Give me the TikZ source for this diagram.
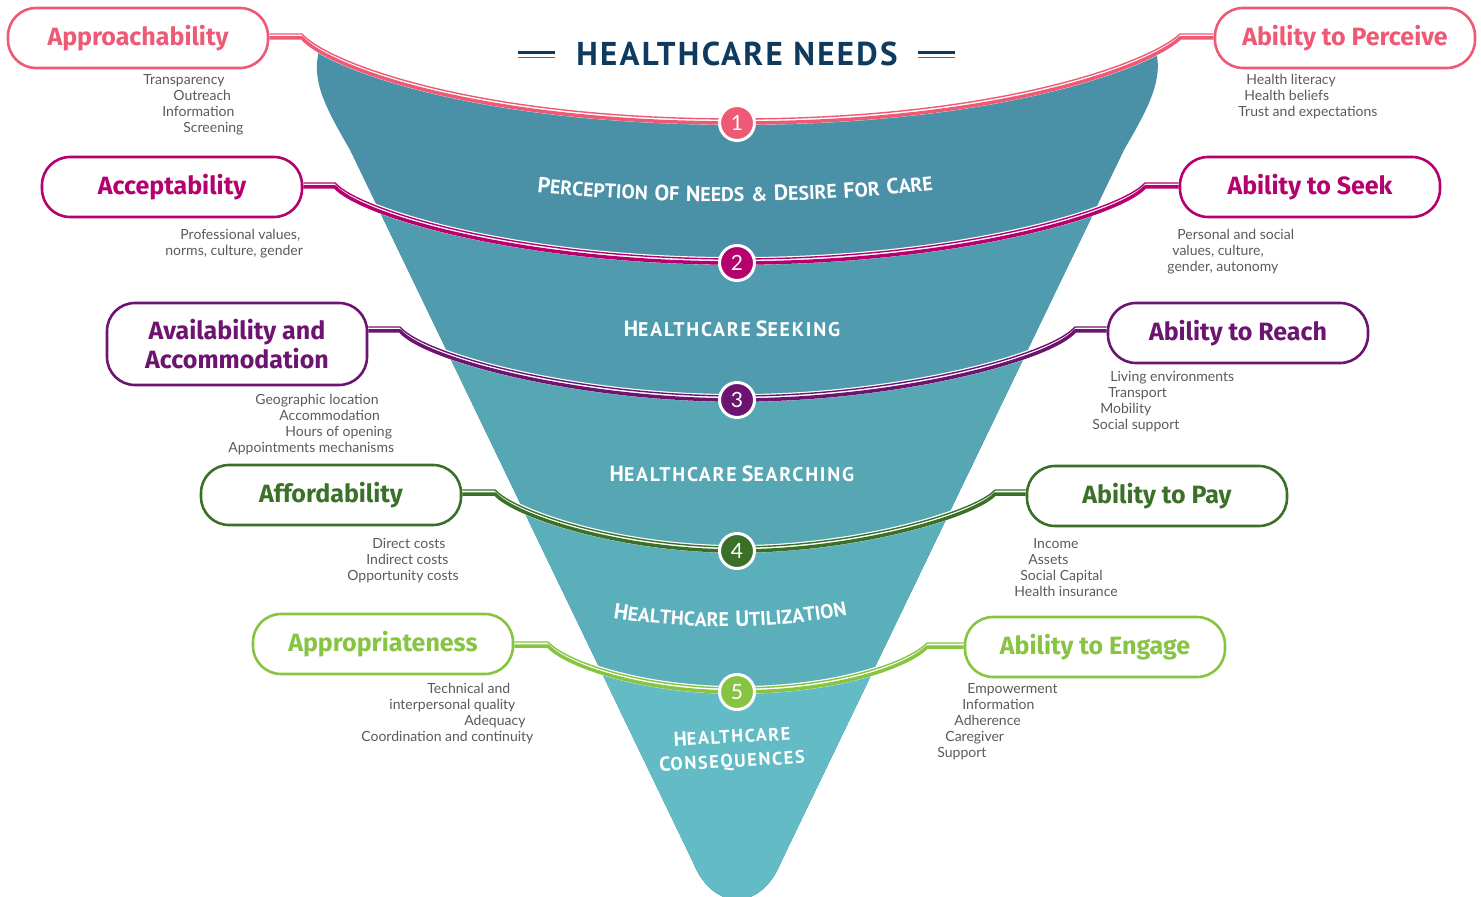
\documentclass[tikz,border=0pt]{standalone}
\usepackage{fontspec}
\setmainfont{Lato}
\newfontfamily\boxfont{Fira Sans}
\newfontfamily\titlefont[LetterSpace=7]{PT Sans}
\newfontfamily\bandfont[LetterSpace=9]{PT Sans}
\usetikzlibrary{decorations.text}

\definecolor{cPink}{HTML}{EE5A75}
\definecolor{cMagenta}{HTML}{B5006E}
\definecolor{cPurple}{HTML}{6C1470}
\definecolor{cGreen}{HTML}{3A7028}
\definecolor{cLime}{HTML}{86C441}
\definecolor{cNavy}{HTML}{0D3A5E}
\definecolor{cGray}{HTML}{5A5A5A}
\definecolor{bandA}{HTML}{4A90A6}
\definecolor{bandB}{HTML}{509BAD}
\definecolor{bandC}{HTML}{56A6B4}
\definecolor{bandD}{HTML}{5BAFBB}
\definecolor{bandE}{HTML}{63BBC5}

\pgfdeclarelayer{funnel}
\pgfdeclarelayer{lines}
\pgfsetlayers{funnel,lines,main}

% small-caps look for the stage labels
\newcommand\stageBig{\bandfont\bfseries\fontsize{11}{12}\selectfont\color{white}}
\newcommand\stageSmall{\bandfont\bfseries\fontsize{9.9}{12}\selectfont\color{white}}
\newcommand\capword[2]{{\stageBig #1}{\stageSmall #2}}

% a connector: white casing, thin upper rule, thick lower rule
\newcommand\linkpath[2]{%
  \draw[white, line width=3.9pt, line join=round, transform canvas={yshift=1pt}] #2;
  \draw[#1, line width=0.7pt, line join=round, transform canvas={yshift=2pt}] #2;
  \draw[#1, line width=1.75pt, line join=round] #2;}

\tikzset{
  box/.style={draw=#1, line width=1.3pt, rounded corners=14pt, minimum width=130pt,
    minimum height=30pt, fill=white, text=#1, align=center,
    font=\boxfont\bfseries\fontsize{12.5}{14.5}\selectfont},
  num/.style={circle, fill=#1, draw=white, line width=1.5pt, minimum size=17.5pt,
    inner sep=0pt, text=white, font=\fontsize{10.5}{11}\selectfont},
  item/.style={anchor=west, inner sep=0pt, text=cGray, text height=5.2pt, text depth=1.5pt,
    font=\fontsize{7}{8}\selectfont},
  stage/.style={inner sep=0pt, text=white}
}

\begin{document}
\begin{tikzpicture}[x=0.5pt, y=-0.5pt]
\useasboundingbox (0,0) rectangle (1481,897);

% ---------- title ----------
\node[text=cNavy, inner sep=0pt] (title) at (737,54)
  {\titlefont\bfseries\fontsize{16.5}{17}\selectfont HEALTHCARE NEEDS};
\draw[cNavy, line width=1.5pt] (518,53) -- (555,53);
\draw[cNavy!75, line width=0.6pt] (518,57.5) -- (555,57.5);
\draw[cNavy, line width=1.5pt] (918,53) -- (955,53);
\draw[cNavy!75, line width=0.6pt] (918,57.5) -- (955,57.5);

% ---------- label boxes ----------
\node[box=cPink] (appr) at (138,38) {Approachability};
\node[box=cPink] (perc) at (1345,38) {Ability to Perceive};
\node[box=cMagenta] (acce) at (172,187) {Acceptability};
\node[box=cMagenta] (seek) at (1310,187) {Ability to Seek};
\node[box=cPurple, minimum height=41pt] (avai) at (237,344) {Availability and\\Accommodation};
\node[box=cPurple] (reac) at (1238,333) {Ability to Reach};
\node[box=cGreen] (affo) at (331,495) {Affordability};
\node[box=cGreen] (pay) at (1157,496) {Ability to Pay};
\node[box=cLime] (appt) at (383,644) {Appropriateness};
\node[box=cLime] (enga) at (1095,647) {Ability to Engage};

% ---------- stage numbers ----------
\node[num=cPink] (n1) at (737,123) {1};
\node[num=cMagenta] (n2) at (737,263) {2};
\node[num=cPurple] (n3) at (737,400) {3};
\node[num=cGreen] (n4) at (737,551) {4};
\node[num=cLime] (n5) at (737,692) {5};

% ---------- connector bends ----------
\coordinate (c1L) at (302,38);  \coordinate (c1R) at (1180,38);
\coordinate (c2L) at (335,187); \coordinate (c2R) at (1145,187);
\coordinate (c3L) at (400,331); \coordinate (c3R) at (1075,331);
\coordinate (c4L) at (495,494); \coordinate (c4R) at (995,494);
\coordinate (c5L) at (548,646); \coordinate (c5R) at (927,647);

\def\curveA{(c1L) .. controls (325,65) and (470,123) .. (n1.center) .. controls (1004,123) and (1152,65) .. (c1R)}
\def\curveB{(c2L) .. controls (360,215) and (520,263) .. (n2.center) .. controls (955,263) and (1120,215) .. (c2R)}
\def\curveC{(c3L) .. controls (425,360) and (580,400) .. (n3.center) .. controls (895,400) and (1050,360) .. (c3R)}
\def\curveD{(c4L) .. controls (515,516) and (620,551) .. (n4.center) .. controls (855,551) and (975,516) .. (c4R)}
\def\curveE{(c5L) .. controls (565,665) and (640,692) .. (n5.center) .. controls (840,692) and (910,665) .. (c5R)}

% ---------- funnel ----------
\begin{pgfonlayer}{funnel}
\begin{scope}
  \clip (318,30) -- (318,56) .. controls (312,85) and (330,115) .. (350,150)
     -- (693,862) .. controls (713,912) and (761,912) .. (781,862)
     -- (1124,150) .. controls (1144,115) and (1162,85) .. (1157,56) -- (1157,30) -- cycle;
  \fill[bandA] (0,38) -- \curveA -- (1481,38) -- (1481,920) -- (0,920) -- cycle;
  \fill[bandB] (0,187) -- \curveB -- (1481,187) -- (1481,920) -- (0,920) -- cycle;
  \fill[bandC] (0,331) -- \curveC -- (1481,331) -- (1481,920) -- (0,920) -- cycle;
  \fill[bandD] (0,494) -- \curveD -- (1481,494) -- (1481,920) -- (0,920) -- cycle;
  \fill[bandE] (0,646) -- \curveE -- (1481,646) -- (1481,920) -- (0,920) -- cycle;
\end{scope}
\end{pgfonlayer}

% ---------- connectors ----------
\begin{pgfonlayer}{lines}
\linkpath{cPink}{(appr.east |- c1L) -- \curveA -- (perc.west |- c1R)}
\linkpath{cMagenta}{(acce.east |- c2L) -- \curveB -- (seek.west |- c2R)}
\linkpath{cPurple}{(avai.east |- c3L) -- \curveC -- (reac.west |- c3R)}
\linkpath{cGreen}{(affo.east |- c4L) -- \curveD -- (pay.west |- c4R)}
\linkpath{cLime}{(appt.east |- c5L) -- \curveE -- (enga.west |- c5R)}
\end{pgfonlayer}

% ---------- stage labels ----------
\path[decorate, decoration={text along path, text align=center,
  text={|\stageBig|P|\stageSmall|ERCEPTION |\stageBig|O|\stageSmall|F |\stageBig|N|\stageSmall|EEDS {\&} |\stageBig|D|\stageSmall|ESIRE |\stageBig|F|\stageSmall|OR |\stageBig|C|\stageSmall|ARE}}]
  (505,189) .. controls (640,206) and (830,206) .. (965,186);
\node[stage] (s2) at (732,329) {\capword{H}{EALTHCARE} \capword{S}{EEKING}};
\node[stage] (s3) at (732,474) {\capword{H}{EALTHCARE} \capword{S}{EARCHING}};
\path[decorate, decoration={text along path, text align=center,
  text={|\stageBig|H|\stageSmall|EALTHCARE |\stageBig|U|\stageSmall|TILIZATION}}]
  (580,612) .. controls (675,632) and (785,632) .. (880,608);
\node[stage, rotate=3, scale=0.92, transform shape] (s5a) at (732,736) {\capword{H}{EALTHCARE}};
\node[stage, rotate=3, scale=0.92, transform shape] (s5b) at (732,762) {\capword{C}{ONSEQUENCES}};

% ---------- determinant lists ----------
\node[item] (a1) at (143,81) {Transparency};
\node[item] (a2) at (173,97) {Outreach};
\node[item] (a3) at (162,113) {Information};
\node[item] (a4) at (183,129) {Screening};

\node[item] (b1) at (180,236) {Professional values,};
\node[item] (b2) at (165,252) {norms, culture, gender};

\node[item] (d1) at (255,401) {Geographic location};
\node[item] (d2) at (279,417) {Accommodation};
\node[item] (d3) at (285,433) {Hours of opening};
\node[item] (d4) at (228,449) {Appointments mechanisms};

\node[item] (e1) at (372,545) {Direct costs};
\node[item] (e2) at (366,561) {Indirect costs};
\node[item] (e3) at (347,577) {Opportunity costs};

\node[item] (f1) at (427,690) {Technical and};
\node[item] (f2) at (389,706) {interpersonal quality};
\node[item] (f3) at (464,722) {Adequacy};
\node[item] (f4) at (361,738) {Coordination and continuity};

\node[item] (p1) at (1246,81) {Health literacy};
\node[item] (p2) at (1244,97) {Health beliefs};
\node[item] (p3) at (1238,113) {Trust and expectations};

\node[item] (q1) at (1177,236) {Personal and social};
\node[item] (q2) at (1172,252) {values, culture,};
\node[item] (q3) at (1167,268) {gender, autonomy};

\node[item] (r1) at (1110,378) {Living environments};
\node[item] (r2) at (1108,394) {Transport};
\node[item] (r3) at (1100,410) {Mobility};
\node[item] (r4) at (1092,426) {Social support};

\node[item] (u1) at (1033,545) {Income};
\node[item] (u2) at (1028,561) {Assets};
\node[item] (u3) at (1020,577) {Social Capital};
\node[item] (u4) at (1014,593) {Health insurance};

\node[item] (v1) at (967,690) {Empowerment};
\node[item] (v2) at (962,706) {Information};
\node[item] (v3) at (954,722) {Adherence};
\node[item] (v4) at (945,738) {Caregiver};
\node[item] (v5) at (937,754) {Support};
\end{tikzpicture}
\end{document}
